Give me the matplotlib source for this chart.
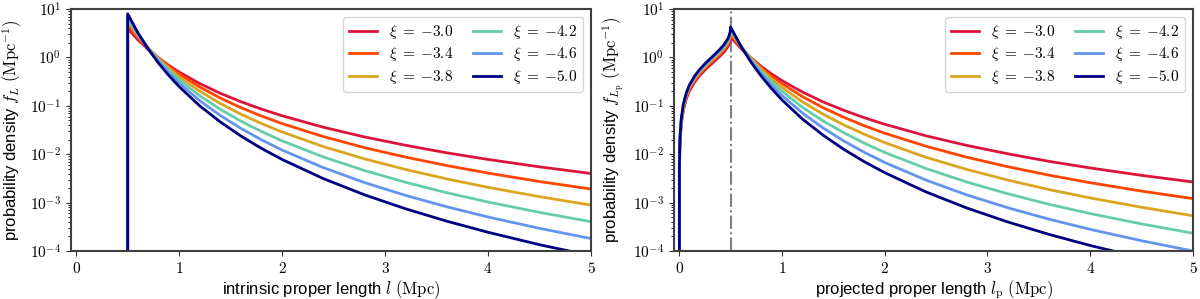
import numpy as np
import matplotlib
matplotlib.use('Agg')
import matplotlib.pyplot as plt
from matplotlib.ticker import FuncFormatter, FixedLocator

plt.rcParams['mathtext.fontset'] = 'cm'
plt.rcParams['font.family'] = ['Liberation Sans', 'DejaVu Sans']

# power-law index of each curve
xis = [-3.0, -3.4, -3.8, -4.2, -4.6, -5.0]
colors = ['crimson', 'orangered', 'goldenrod', 'mediumaquamarine', 'cornflowerblue', 'navy']

# intrinsic proper length (left panel), pdf is zero below l = 0.5 Mpc
l_int = [0.5, 0.5, 0.6, 0.7, 0.8, 0.9, 1.0, 1.2, 1.4, 1.6, 1.8, 2.0, 2.4, 2.8, 3.2, 3.6, 4.0, 4.5, 5.0]
f_int = [
    [0, 4, 2.31, 1.46, 0.977, 0.686, 0.5, 0.289, 0.182, 0.122, 0.0857, 0.0625, 0.0362, 0.0228, 0.0153, 0.0107, 0.00781, 0.00549, 0.004],
    [0, 4.8, 2.58, 1.53, 0.971, 0.651, 0.455, 0.245, 0.145, 0.092, 0.0616, 0.0431, 0.0232, 0.0137, 0.00872, 0.00584, 0.00408, 0.00273, 0.00191],
    [0, 5.6, 2.80, 1.56, 0.939, 0.600, 0.402, 0.201, 0.112, 0.0674, 0.0431, 0.0289, 0.0144, 0.00804, 0.00484, 0.00309, 0.00207, 0.00133, 0.000888],
    [0, 6.4, 2.98, 1.56, 0.889, 0.542, 0.348, 0.162, 0.0847, 0.0484, 0.0295, 0.0189, 0.00881, 0.00461, 0.00263, 0.0016, 0.00103, 0.000629, 0.000404],
    [0, 7.2, 3.11, 1.53, 0.829, 0.482, 0.297, 0.128, 0.0632, 0.0342, 0.0199, 0.0122, 0.00529, 0.0026, 0.00141, 0.00082, 0.000505, 0.000294, 0.000181],
    [0, 8, 3.22, 1.49, 0.763, 0.423, 0.25, 0.1, 0.0465, 0.0238, 0.0132, 0.00781, 0.00314, 0.00145, 0.000745, 0.000413, 0.000244, 0.000135, 8e-05],
]

# projected proper length (right panel)
l_proj = [0, 0.002, 0.005, 0.01, 0.02, 0.04, 0.07, 0.1, 0.15, 0.2, 0.25, 0.3, 0.35, 0.4,
          0.44, 0.47, 0.485, 0.495, 0.499,
          0.5, 0.6, 0.7, 0.8, 0.9, 1.0, 1.2, 1.4, 1.6, 1.8, 2.0, 2.4, 2.8, 3.2, 3.6, 4.0, 4.5, 5.0]
f_proj = [
    [0, 0.004, 0.01, 0.02, 0.04, 0.0802, 0.141, 0.203, 0.309, 0.423, 0.549, 0.691, 0.862, 1.08, 1.33, 1.63, 1.88, 2.17, 2.43,
     2.67, 1.54, 0.973, 0.651, 0.457, 0.333, 0.193, 0.121, 0.0813, 0.0571, 0.0417, 0.0241, 0.0152, 0.0102, 0.00713, 0.00521, 0.00366, 0.00267],
    [0, 0.00436, 0.0109, 0.0218, 0.0437, 0.0875, 0.154, 0.221, 0.338, 0.463, 0.6, 0.758, 0.947, 1.19, 1.48, 1.82, 2.1, 2.44, 2.75,
     3.03, 1.63, 0.967, 0.614, 0.411, 0.288, 0.155, 0.0917, 0.0582, 0.0389, 0.0272, 0.0147, 0.00866, 0.00551, 0.00369, 0.00258, 0.00173, 0.00121],
    [0, 0.00467, 0.0117, 0.0233, 0.0467, 0.0935, 0.164, 0.237, 0.362, 0.496, 0.644, 0.814, 1.02, 1.29, 1.6, 1.98, 2.3, 2.69, 3.04,
     3.37, 1.69, 0.94, 0.566, 0.361, 0.242, 0.121, 0.0675, 0.0406, 0.026, 0.0174, 0.00867, 0.00484, 0.00292, 0.00186, 0.00125, 0.000801, 0.000535],
    [0, 0.00492, 0.0123, 0.0246, 0.0493, 0.0987, 0.174, 0.25, 0.382, 0.524, 0.681, 0.862, 1.08, 1.37, 1.71, 2.13, 2.48, 2.92, 3.31,
     3.69, 1.72, 0.899, 0.513, 0.312, 0.201, 0.0934, 0.0488, 0.0279, 0.017, 0.0109, 0.00508, 0.00266, 0.00152, 0.000922, 0.000594, 0.000363, 0.000233],
    [0, 0.00514, 0.0129, 0.0257, 0.0515, 0.103, 0.181, 0.261, 0.399, 0.548, 0.713, 0.903, 1.14, 1.44, 1.81, 2.26, 2.64, 3.12, 3.57,
     3.99, 1.72, 0.847, 0.459, 0.267, 0.164, 0.0709, 0.035, 0.0189, 0.011, 0.00676, 0.00293, 0.00144, 0.000781, 0.000454, 0.00028, 0.000163, 0.0001],
    [0, 0.00533, 0.0133, 0.0267, 0.0534, 0.107, 0.188, 0.271, 0.414, 0.569, 0.741, 0.939, 1.18, 1.51, 1.89, 2.37, 2.79, 3.32, 3.8,
     4.27, 1.72, 0.795, 0.407, 0.226, 0.133, 0.0533, 0.0248, 0.0127, 0.00704, 0.00417, 0.00167, 0.000773, 0.000397, 0.00022, 0.00013, 7.2e-05, 4.27e-05],
]
l_min = 0.5

fig = plt.figure(figsize=(12, 2.99), dpi=100)
ax1 = fig.add_axes([0.0592, 0.1605, 0.4333, 0.809])
ax2 = fig.add_axes([0.5617, 0.1605, 0.4325, 0.809])

for xi, c, f in zip(xis, colors, f_int):
    ax1.plot(l_int, f, color=c, lw=2, label=r'$\xi\;=\;{%.1f}$' % xi)
ax2.axvline(l_min, color='gray', ls='-.', lw=1.5)
for xi, c, f in zip(xis, colors, f_proj):
    ax2.plot(l_proj, f, color=c, lw=2, label=r'$\xi\;=\;{%.1f}$' % xi)

for ax in (ax1, ax2):
    ax.set_yscale('log')
    ax.set_ylim(1e-4, 1e1)
    ax.set_xlim(-0.05, 5)
    ax.xaxis.set_major_locator(FixedLocator([0, 1, 2, 3, 4, 5]))
    ax.xaxis.set_major_formatter(FuncFormatter(lambda v, p: r'$%d$' % v))
    ax.yaxis.set_major_formatter(FuncFormatter(lambda v, p: r'$10^{%d}$' % round(np.log10(v))))
    ax.tick_params(labelsize=11, color='0.2')
    for sp in ax.spines.values():
        sp.set_color('0.25')
        sp.set_linewidth(1.5)
    ax.legend(ncol=2, loc='upper right', fontsize=11, handlelength=1.8, columnspacing=1.3,
              labelspacing=0.3)

ax1.set_xlabel(r'intrinsic proper length $l$ $(\mathrm{Mpc})$', fontsize=12, labelpad=2)
ax1.set_ylabel(r'probability density $f_L$ $(\mathrm{Mpc}^{-1})$', fontsize=12)
ax2.set_xlabel(r'projected proper length $l_\mathrm{p}$ $(\mathrm{Mpc})$', fontsize=12, labelpad=2)
ax2.set_ylabel(r'probability density $f_{L_\mathrm{p}}$ $(\mathrm{Mpc}^{-1})$', fontsize=12)

fig.savefig('out.png', dpi=100)
